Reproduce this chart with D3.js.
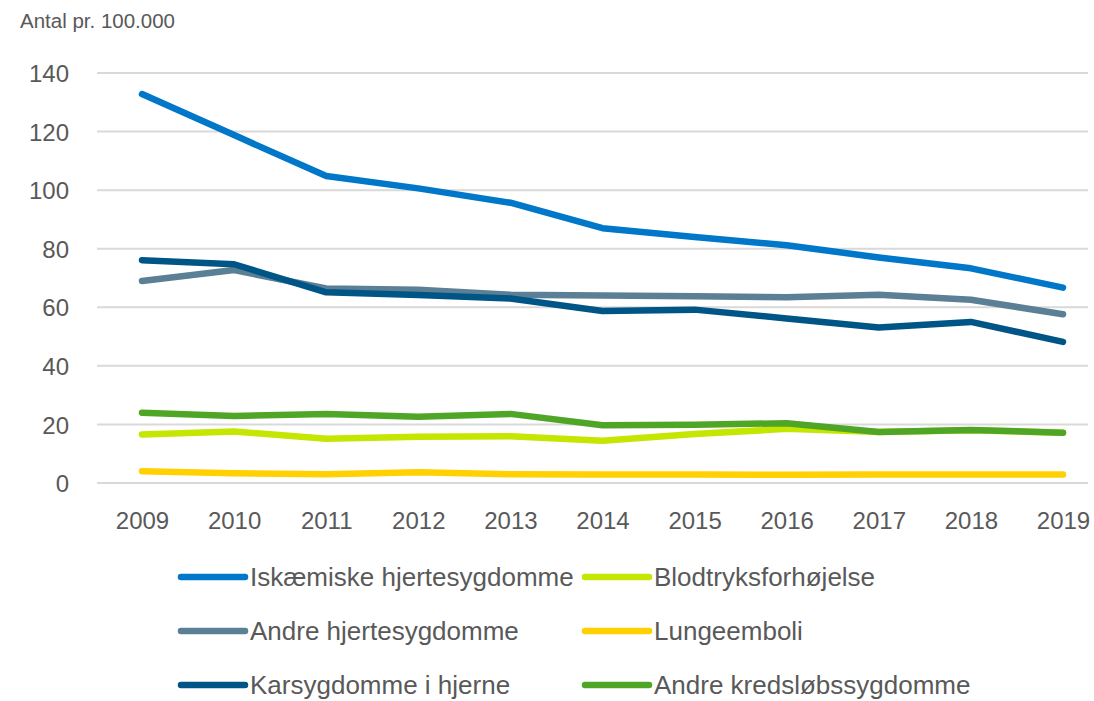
<!DOCTYPE html>
<html>
<head>
<meta charset="utf-8">
<script src="https://cdn.jsdelivr.net/npm/d3@7"></script>
<style>
  body { margin: 0; background: #fff; }
  text { font-family: "Liberation Sans", Arial, sans-serif; fill: #595959; }
</style>
</head>
<body>
<div class="line-chart"></div>
<script>
(function() {

    // data
    var years = [2009, 2010, 2011, 2012, 2013, 2014, 2015, 2016, 2017, 2018, 2019];
    var yTicks = [0, 20, 40, 60, 80, 100, 120, 140];

    var iskaemiske = [132.8, 118.8, 104.8, 100.6, 95.7, 87.0, 84.0, 81.2, 77.0, 73.3, 66.7];
    var andreHjerte = [69.0, 72.7, 66.4, 66.0, 64.3, 64.0, 63.8, 63.4, 64.3, 62.6, 57.6];
    var karsygdomme = [76.1, 74.7, 65.1, 64.2, 63.0, 58.7, 59.2, 56.2, 53.1, 55.0, 48.2];
    var blodtryk = [16.6, 17.6, 15.1, 15.8, 16.0, 14.4, 16.7, 18.5, 17.4, 18.0, 17.2];
    var lungeemboli = [4.0, 3.3, 3.0, 3.7, 3.0, 2.9, 2.9, 2.8, 2.9, 2.9, 2.9];
    var andreKreds = [24.0, 22.9, 23.6, 22.6, 23.6, 19.7, 19.9, 20.4, 17.4, 18.1, 17.2];

    var seriesNames = ["Iskæmiske hjertesygdomme", "Blodtryksforhøjelse", "Andre hjertesygdomme",
        "Lungeemboli", "Karsygdomme i hjerne", "Andre kredsløbssygdomme"];
    var seriesValues = [iskaemiske, blodtryk, andreHjerte, lungeemboli, karsygdomme, andreKreds];
    var seriesColors = ["#0077c8", "#c4e600", "#5b7f95", "#ffd100", "#005587", "#4fa626"];
    // drawing order (back to front)
    var drawOrder = [3, 1, 5, 2, 4, 0];

    var width = 1094, height = 701;
    var plot = { left: 97, right: 1088, top: 73, bottom: 483 };

    var svg = d3.select(".line-chart").append("svg")
        .attr("width", width)
        .attr("height", height);

    var x = d3.scalePoint()
        .domain(years)
        .range([142, 1063]);

    var y = d3.scaleLinear()
        .domain([0, 140])
        .range([plot.bottom, plot.top]);

    /*gridlines*/
    svg.append("g")
        .selectAll("line")
        .data(yTicks)
        .enter().append("line")
        .attr("x1", plot.left)
        .attr("x2", plot.right)
        .attr("y1", function(d) { return y(d); })
        .attr("y2", function(d) { return y(d); })
        .attr("stroke", "#d9d9d9")
        .attr("stroke-width", 2);

    /*y axis labels*/
    var yAxis = d3.axisLeft(y).tickValues(yTicks).tickSize(0).tickPadding(0);
    var yg = svg.append("g")
        .attr("transform", "translate(69,0)")
        .call(yAxis);
    yg.select(".domain").remove();
    yg.selectAll("text")
        .attr("dy", "0.36em")
        .style("font-size", "24px")
        .style("font-family", "'Liberation Sans', Arial, sans-serif")
        .attr("fill", "#595959");

    /*x axis labels*/
    var xAxis = d3.axisBottom(x).tickSize(0).tickPadding(0);
    var xg = svg.append("g")
        .attr("transform", "translate(0,512)")
        .call(xAxis);
    xg.select(".domain").remove();
    xg.selectAll("text")
        .attr("dy", "0.71em")
        .style("font-size", "24px")
        .style("font-family", "'Liberation Sans', Arial, sans-serif")
        .attr("fill", "#595959");

    // title
    svg.append("text")
        .attr("x", 20)
        .attr("y", 28)
        .style("font-size", "20.5px")
        .text("Antal pr. 100.000");

    /*lines*/
    var line = d3.line()
        .x(function(d, i) { return x(years[i]); })
        .y(function(d) { return y(d); });

    svg.append("g")
        .selectAll("path")
        .data(drawOrder)
        .enter().append("path")
        .attr("d", function(k) { return line(seriesValues[k]); })
        .attr("fill", "none")
        .attr("stroke", function(k) { return seriesColors[k]; })
        .attr("stroke-width", 6.5)
        .attr("stroke-linecap", "round")
        .attr("stroke-linejoin", "round");

    /*legend*/
    var legend = svg.selectAll(".legend")
        .data(seriesNames)
        .enter().append("g")
        .attr("class", "legend")
        .attr("transform", function(d, i) {
            var col = i % 2, row = Math.floor(i / 2);
            return "translate(" + (col === 0 ? 181 : 585) + "," + (577 + row * 54) + ")";
        });

    legend.append("line")
        .attr("x1", 0)
        .attr("x2", 64)
        .attr("stroke", function(d, i) { return seriesColors[i]; })
        .attr("stroke-width", 6.5)
        .attr("stroke-linecap", "round");

    legend.append("text")
        .attr("x", 69)
        .attr("dy", "0.36em")
        .style("font-size", "26px")
        .text(function(d) { return d; });

})();
</script>
</body>
</html>
